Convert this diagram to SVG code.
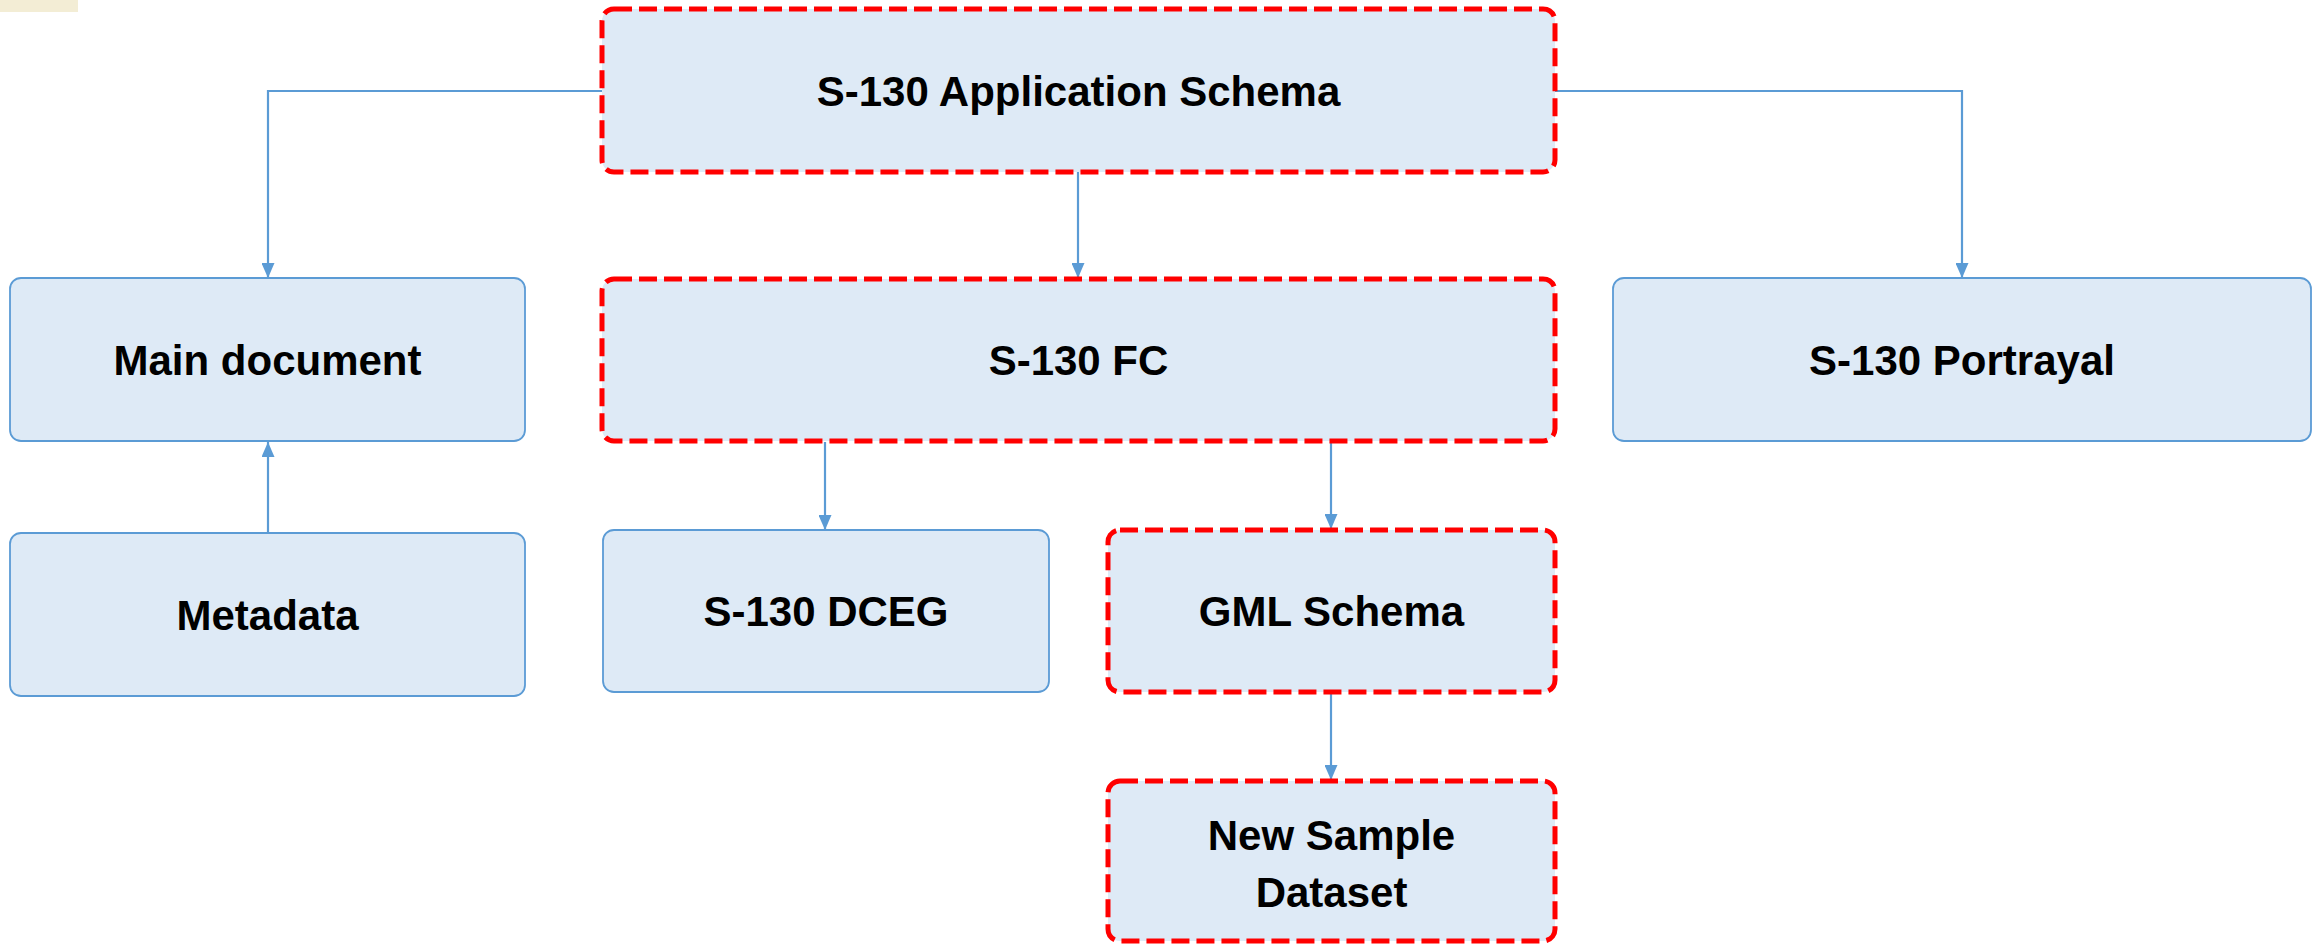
<svg xmlns="http://www.w3.org/2000/svg" width="2321" height="946" viewBox="0 0 2321 946">
<style>
.box{fill:#DEEAF6;stroke:#5B9BD5;stroke-width:1.8}
.dash{fill:#DEEAF6;stroke:#FF0000;stroke-width:5;stroke-dasharray:18 7}
.lbl{font-family:"Liberation Sans",Arial,sans-serif;font-weight:bold;font-size:42px;fill:#000;text-anchor:middle}
.con{fill:none;stroke:#5B9BD5;stroke-width:2.2}
</style>
<defs>
<marker id="arrow" viewBox="0 0 15 13" refX="15" refY="6.5" markerWidth="15" markerHeight="13" markerUnits="userSpaceOnUse" orient="auto">
<path d="M0,0 L15,6.5 L0,13 z" fill="#5B9BD5"/>
</marker>
</defs>
<rect x="0" y="0" width="78" height="12" fill="#F3EDD5"/>
<g id="connectors">
<path class="con" d="M602,91 H268 V278" marker-end="url(#arrow)"/>
<path class="con" d="M1555,91 H1962 V278" marker-end="url(#arrow)"/>
<path class="con" d="M1078,172 V278" marker-end="url(#arrow)"/>
<path class="con" d="M268,533 V442" marker-end="url(#arrow)"/>
<path class="con" d="M825,442 V530" marker-end="url(#arrow)"/>
<path class="con" d="M1331,442 V529" marker-end="url(#arrow)"/>
<path class="con" d="M1331,693 V780" marker-end="url(#arrow)"/>
</g>
<g id="app-schema">
<rect class="dash" x="602" y="9" width="953" height="163" rx="12"/>
<text class="lbl" x="1078.5" y="106">S-130 Application Schema</text>
</g>
<g id="main-document">
<rect class="box" x="10" y="278" width="515" height="163" rx="11"/>
<text class="lbl" x="267.5" y="375">Main document</text>
</g>
<g id="fc">
<rect class="dash" x="602" y="279" width="953" height="162" rx="12"/>
<text class="lbl" x="1078.5" y="375">S-130 FC</text>
</g>
<g id="portrayal">
<rect class="box" x="1613" y="278" width="698" height="163" rx="11"/>
<text class="lbl" x="1962" y="375">S-130 Portrayal</text>
</g>
<g id="metadata">
<rect class="box" x="10" y="533" width="515" height="163" rx="11"/>
<text class="lbl" x="267.5" y="630">Metadata</text>
</g>
<g id="dceg">
<rect class="box" x="603" y="530" width="446" height="162" rx="11"/>
<text class="lbl" x="826" y="626">S-130 DCEG</text>
</g>
<g id="gml-schema">
<rect class="dash" x="1108" y="530" width="447" height="162" rx="12"/>
<text class="lbl" x="1331.5" y="626">GML Schema</text>
</g>
<g id="new-sample-dataset">
<rect class="dash" x="1108" y="781" width="447" height="160" rx="12"/>
<text class="lbl" x="1331.5" y="850">New Sample</text>
<text class="lbl" x="1331.5" y="907">Dataset</text>
</g>
</svg>
